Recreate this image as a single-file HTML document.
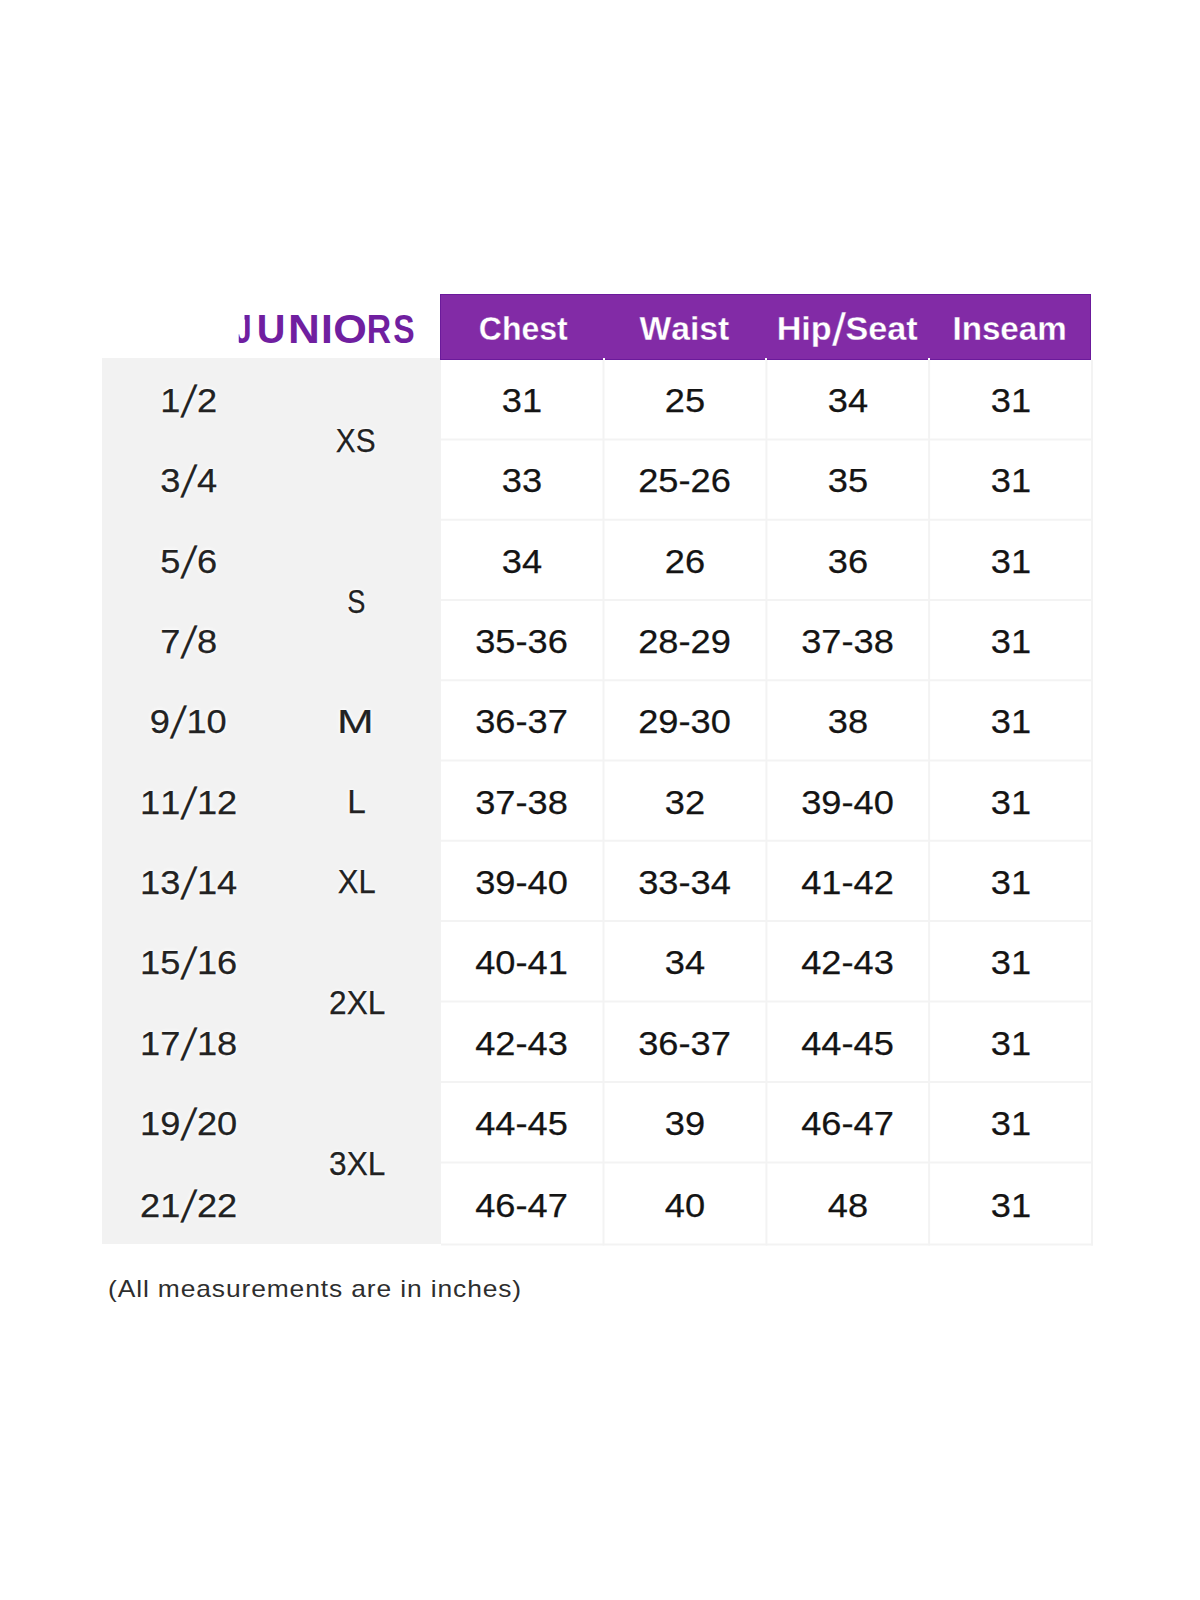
<!DOCTYPE html>
<html lang="en">
<head>
<meta charset="utf-8">
<title>Juniors Size Chart</title>
<style>
html,body{margin:0;padding:0;background:#fff;}
body{width:1200px;height:1600px;position:relative;overflow:hidden;font-family:"Liberation Sans",sans-serif;}
.chart{position:absolute;left:0;top:0;width:1200px;height:1600px;}
.abs{position:absolute;}
.gray{background:#f2f2f2;}
.head{background:#822ba6;border:1px solid #6b1a9b;box-sizing:border-box;}
.t{font-kerning:none;-webkit-text-stroke:0.25px currentColor;position:absolute;text-align:center;white-space:nowrap;font-size:34px;color:#141414;}
.t span{display:inline-block;transform-origin:50% 50%;}
.g{color:#222;text-shadow:0 0 2px #fff,0 0 4px #fff,0 0 6px rgba(255,255,255,.8);}
.sl{display:inline-block;font-style:normal;width:15.6px;text-align:center;transform:translateY(0.8px) skewX(-11deg) scaleY(1.31);}
.h{font-weight:bold;color:#fff;font-size:34px;-webkit-text-stroke:0.3px #822ba6;}
.sh{display:inline-block;font-style:normal;width:13.8px;text-align:center;transform:translateY(0.8px) skewX(-8.7deg) scaleY(1.34);}
.title{font-weight:bold;color:#701fa0;font-size:40px;-webkit-text-stroke:0;}
.t .tl{position:absolute;top:0;width:60px;text-align:center;display:block;}
.note{font-size:24px;color:#2e2e2e;-webkit-text-stroke:0;text-align:left;letter-spacing:0.8px;}
</style>
</head>
<body>
<div class="chart">

<div class="abs gray" style="left:102px;top:358px;width:339px;height:885.5px"></div>
<div class="abs head" style="left:440px;top:294px;width:651px;height:66px"></div>
<svg class="abs" style="left:0;top:0" width="1200" height="1600" viewBox="0 0 1200 1600" aria-hidden="true"><g fill="#f3f3f3">
<rect x="602.5" y="360" width="2" height="885.5"/>
<rect x="765.4" y="360" width="2" height="885.5"/>
<rect x="928.1" y="360" width="2" height="885.5"/>
<rect x="1091" y="360" width="2" height="885.5"/>
<rect x="441" y="438.5" width="652" height="2"/>
<rect x="441" y="518.75" width="652" height="2"/>
<rect x="441" y="599" width="652" height="2"/>
<rect x="441" y="679.25" width="652" height="2"/>
<rect x="441" y="759.5" width="652" height="2"/>
<rect x="441" y="839.75" width="652" height="2"/>
<rect x="441" y="920" width="652" height="2"/>
<rect x="441" y="1000.5" width="652" height="2"/>
<rect x="441" y="1081" width="652" height="2"/>
<rect x="441" y="1161.5" width="652" height="2"/>
<rect x="441" y="1243.5" width="652" height="2"/>
</g></svg>
<div class="abs" style="left:602.5px;top:358px;width:2px;height:2px;background:#fff"></div>
<div class="abs" style="left:765.4px;top:358px;width:2px;height:2px;background:#fff"></div>
<div class="abs" style="left:928.1px;top:358px;width:2px;height:2px;background:#fff"></div>
<div class="t title" style="left:196px;top:299px;width:260px;height:60px;line-height:60px;"><span class="tl" style="left:17.20px;transform:scaleX(0.800);clip-path:polygon(24.6px 32px,24.6px 60px,60px 60px,60px 0,31.9px 0,31.9px 32px)">J</span><span class="tl" style="left:45.20px;transform:scaleX(0.992)">U</span><span class="tl" style="left:78.25px;transform:scaleX(1.104)">N</span><span class="tl" style="left:100.80px;transform:scaleX(1.067)">I</span><span class="tl" style="left:123.70px;transform:scaleX(1.079)">O</span><span class="tl" style="left:152.63px;transform:scaleX(0.844)">R</span><span class="tl" style="left:177.80px;transform:scaleX(0.800)">S</span></div>
<div class="t h" style="left:442.00px;top:298.00px;width:163px;height:60px;line-height:60px;"><span style="transform:scaleX(0.94)">Chest</span></div>
<div class="t h" style="left:603.30px;top:298.00px;width:163px;height:60px;line-height:60px;"><span style="transform:scaleX(0.989)">Waist</span></div>
<div class="t h" style="left:766.00px;top:298.00px;width:163px;height:60px;line-height:60px;"><span style="transform:scaleX(1.005)">Hip<i class="sh">/</i>Seat</span></div>
<div class="t h" style="left:928.30px;top:298.00px;width:163px;height:60px;line-height:60px;"><span style="transform:scaleX(0.976)">Inseam</span></div>
<div class="t g" style="left:103.30px;top:370.15px;width:170px;height:60px;line-height:60px;"><span style="transform:scaleX(1.065)">1<i class="sl">/</i>2</span></div>
<div class="t g" style="left:103.30px;top:450.02px;width:170px;height:60px;line-height:60px;"><span style="transform:scaleX(1.065)">3<i class="sl">/</i>4</span></div>
<div class="t g" style="left:103.30px;top:530.77px;width:170px;height:60px;line-height:60px;"><span style="transform:scaleX(1.065)">5<i class="sl">/</i>6</span></div>
<div class="t g" style="left:103.30px;top:611.02px;width:170px;height:60px;line-height:60px;"><span style="transform:scaleX(1.065)">7<i class="sl">/</i>8</span></div>
<div class="t g" style="left:103.30px;top:691.27px;width:170px;height:60px;line-height:60px;"><span style="transform:scaleX(1.065)">9<i class="sl">/</i>10</span></div>
<div class="t g" style="left:103.30px;top:771.52px;width:170px;height:60px;line-height:60px;"><span style="transform:scaleX(1.065)">11<i class="sl">/</i>12</span></div>
<div class="t g" style="left:103.30px;top:851.77px;width:170px;height:60px;line-height:60px;"><span style="transform:scaleX(1.065)">13<i class="sl">/</i>14</span></div>
<div class="t g" style="left:103.30px;top:932.15px;width:170px;height:60px;line-height:60px;"><span style="transform:scaleX(1.065)">15<i class="sl">/</i>16</span></div>
<div class="t g" style="left:103.30px;top:1012.65px;width:170px;height:60px;line-height:60px;"><span style="transform:scaleX(1.065)">17<i class="sl">/</i>18</span></div>
<div class="t g" style="left:103.30px;top:1093.15px;width:170px;height:60px;line-height:60px;"><span style="transform:scaleX(1.065)">19<i class="sl">/</i>20</span></div>
<div class="t g" style="left:103.30px;top:1175.00px;width:170px;height:60px;line-height:60px;"><span style="transform:scaleX(1.065)">21<i class="sl">/</i>22</span></div>
<div class="t g" style="left:271.90px;top:409.88px;width:168px;height:60px;line-height:60px;"><span style="transform:scaleX(0.876)">XS</span></div>
<div class="t g" style="left:272.50px;top:570.60px;width:168px;height:60px;line-height:60px;"><span style="transform:scaleX(0.8)">S</span></div>
<div class="t g" style="left:271.00px;top:692.48px;width:168px;height:60px;line-height:60px;font-size:39px"><span style="transform:scale(1.13,0.872)">M</span></div>
<div class="t g" style="left:272.80px;top:771.23px;width:168px;height:60px;line-height:60px;"><span style="transform:scaleX(0.98)">L</span></div>
<div class="t g" style="left:273.20px;top:851.38px;width:168px;height:60px;line-height:60px;"><span style="transform:scaleX(0.91)">XL</span></div>
<div class="t g" style="left:273.30px;top:971.50px;width:168px;height:60px;line-height:60px;"><span style="transform:scaleX(0.93)">2XL</span></div>
<div class="t g" style="left:273.30px;top:1133.25px;width:168px;height:60px;line-height:60px;"><span style="transform:scaleX(0.93)">3XL</span></div>
<div class="t d" style="left:440.75px;top:370.15px;width:162px;height:60px;line-height:60px;"><span style="transform:scaleX(1.065)">31</span></div>
<div class="t d" style="left:603.95px;top:370.15px;width:162px;height:60px;line-height:60px;"><span style="transform:scaleX(1.065)">25</span></div>
<div class="t d" style="left:766.75px;top:370.15px;width:162px;height:60px;line-height:60px;"><span style="transform:scaleX(1.065)">34</span></div>
<div class="t d" style="left:929.55px;top:370.15px;width:162px;height:60px;line-height:60px;"><span style="transform:scaleX(1.065)">31</span></div>
<div class="t d" style="left:440.75px;top:450.02px;width:162px;height:60px;line-height:60px;"><span style="transform:scaleX(1.065)">33</span></div>
<div class="t d" style="left:603.95px;top:450.02px;width:162px;height:60px;line-height:60px;"><span style="transform:scaleX(1.065)">25-26</span></div>
<div class="t d" style="left:766.75px;top:450.02px;width:162px;height:60px;line-height:60px;"><span style="transform:scaleX(1.065)">35</span></div>
<div class="t d" style="left:929.55px;top:450.02px;width:162px;height:60px;line-height:60px;"><span style="transform:scaleX(1.065)">31</span></div>
<div class="t d" style="left:440.75px;top:530.77px;width:162px;height:60px;line-height:60px;"><span style="transform:scaleX(1.065)">34</span></div>
<div class="t d" style="left:603.95px;top:530.77px;width:162px;height:60px;line-height:60px;"><span style="transform:scaleX(1.065)">26</span></div>
<div class="t d" style="left:766.75px;top:530.77px;width:162px;height:60px;line-height:60px;"><span style="transform:scaleX(1.065)">36</span></div>
<div class="t d" style="left:929.55px;top:530.77px;width:162px;height:60px;line-height:60px;"><span style="transform:scaleX(1.065)">31</span></div>
<div class="t d" style="left:440.75px;top:611.02px;width:162px;height:60px;line-height:60px;"><span style="transform:scaleX(1.065)">35-36</span></div>
<div class="t d" style="left:603.95px;top:611.02px;width:162px;height:60px;line-height:60px;"><span style="transform:scaleX(1.065)">28-29</span></div>
<div class="t d" style="left:766.75px;top:611.02px;width:162px;height:60px;line-height:60px;"><span style="transform:scaleX(1.065)">37-38</span></div>
<div class="t d" style="left:929.55px;top:611.02px;width:162px;height:60px;line-height:60px;"><span style="transform:scaleX(1.065)">31</span></div>
<div class="t d" style="left:440.75px;top:691.27px;width:162px;height:60px;line-height:60px;"><span style="transform:scaleX(1.065)">36-37</span></div>
<div class="t d" style="left:603.95px;top:691.27px;width:162px;height:60px;line-height:60px;"><span style="transform:scaleX(1.065)">29-30</span></div>
<div class="t d" style="left:766.75px;top:691.27px;width:162px;height:60px;line-height:60px;"><span style="transform:scaleX(1.065)">38</span></div>
<div class="t d" style="left:929.55px;top:691.27px;width:162px;height:60px;line-height:60px;"><span style="transform:scaleX(1.065)">31</span></div>
<div class="t d" style="left:440.75px;top:771.52px;width:162px;height:60px;line-height:60px;"><span style="transform:scaleX(1.065)">37-38</span></div>
<div class="t d" style="left:603.95px;top:771.52px;width:162px;height:60px;line-height:60px;"><span style="transform:scaleX(1.065)">32</span></div>
<div class="t d" style="left:766.75px;top:771.52px;width:162px;height:60px;line-height:60px;"><span style="transform:scaleX(1.065)">39-40</span></div>
<div class="t d" style="left:929.55px;top:771.52px;width:162px;height:60px;line-height:60px;"><span style="transform:scaleX(1.065)">31</span></div>
<div class="t d" style="left:440.75px;top:851.77px;width:162px;height:60px;line-height:60px;"><span style="transform:scaleX(1.065)">39-40</span></div>
<div class="t d" style="left:603.95px;top:851.77px;width:162px;height:60px;line-height:60px;"><span style="transform:scaleX(1.065)">33-34</span></div>
<div class="t d" style="left:766.75px;top:851.77px;width:162px;height:60px;line-height:60px;"><span style="transform:scaleX(1.065)">41-42</span></div>
<div class="t d" style="left:929.55px;top:851.77px;width:162px;height:60px;line-height:60px;"><span style="transform:scaleX(1.065)">31</span></div>
<div class="t d" style="left:440.75px;top:932.15px;width:162px;height:60px;line-height:60px;"><span style="transform:scaleX(1.065)">40-41</span></div>
<div class="t d" style="left:603.95px;top:932.15px;width:162px;height:60px;line-height:60px;"><span style="transform:scaleX(1.065)">34</span></div>
<div class="t d" style="left:766.75px;top:932.15px;width:162px;height:60px;line-height:60px;"><span style="transform:scaleX(1.065)">42-43</span></div>
<div class="t d" style="left:929.55px;top:932.15px;width:162px;height:60px;line-height:60px;"><span style="transform:scaleX(1.065)">31</span></div>
<div class="t d" style="left:440.75px;top:1012.65px;width:162px;height:60px;line-height:60px;"><span style="transform:scaleX(1.065)">42-43</span></div>
<div class="t d" style="left:603.95px;top:1012.65px;width:162px;height:60px;line-height:60px;"><span style="transform:scaleX(1.065)">36-37</span></div>
<div class="t d" style="left:766.75px;top:1012.65px;width:162px;height:60px;line-height:60px;"><span style="transform:scaleX(1.065)">44-45</span></div>
<div class="t d" style="left:929.55px;top:1012.65px;width:162px;height:60px;line-height:60px;"><span style="transform:scaleX(1.065)">31</span></div>
<div class="t d" style="left:440.75px;top:1093.15px;width:162px;height:60px;line-height:60px;"><span style="transform:scaleX(1.065)">44-45</span></div>
<div class="t d" style="left:603.95px;top:1093.15px;width:162px;height:60px;line-height:60px;"><span style="transform:scaleX(1.065)">39</span></div>
<div class="t d" style="left:766.75px;top:1093.15px;width:162px;height:60px;line-height:60px;"><span style="transform:scaleX(1.065)">46-47</span></div>
<div class="t d" style="left:929.55px;top:1093.15px;width:162px;height:60px;line-height:60px;"><span style="transform:scaleX(1.065)">31</span></div>
<div class="t d" style="left:440.75px;top:1175.00px;width:162px;height:60px;line-height:60px;"><span style="transform:scaleX(1.065)">46-47</span></div>
<div class="t d" style="left:603.95px;top:1175.00px;width:162px;height:60px;line-height:60px;"><span style="transform:scaleX(1.065)">40</span></div>
<div class="t d" style="left:766.75px;top:1175.00px;width:162px;height:60px;line-height:60px;"><span style="transform:scaleX(1.065)">48</span></div>
<div class="t d" style="left:929.55px;top:1175.00px;width:162px;height:60px;line-height:60px;"><span style="transform:scaleX(1.065)">31</span></div>
<div class="t note" style="left:108px;top:1269px;width:500px;height:40px;line-height:40px;"><span style="transform-origin:0 50%;transform:scaleX(1.1)">(All measurements are in inches)</span></div>
</div>
</body>
</html>
